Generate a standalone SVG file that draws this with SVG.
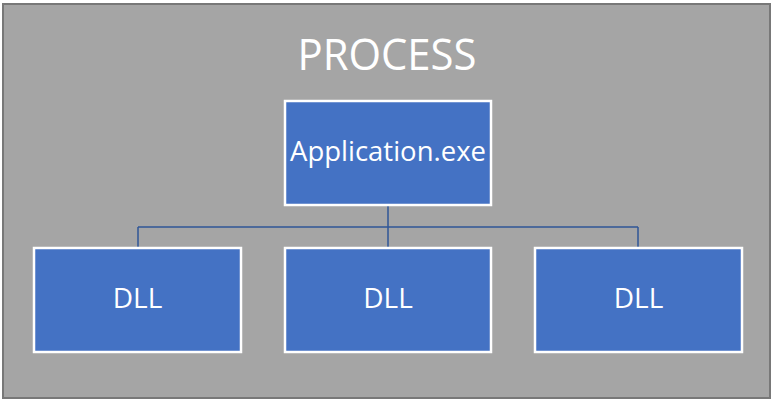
<svg xmlns="http://www.w3.org/2000/svg" width="777" height="402" viewBox="0 0 777 402">
  <style>
    .box { fill: #4472C4; stroke: #FFFFFF; stroke-width: 2.5; }
    .lbl { font-family: "Open Sans", "Noto Sans", sans-serif; fill: #FFFFFF; text-anchor: middle; }
    .conn { fill: none; stroke: #2F5597; stroke-width: 1.5; }
  </style>
  <rect id="process" x="3" y="4" width="767" height="394" fill="#A5A5A5" stroke="#787878" stroke-width="2"/>
  <text class="lbl" x="387" y="70" font-size="44" textLength="179" lengthAdjust="spacingAndGlyphs">PROCESS</text>
  <g id="connectors">
    <path class="conn" d="M388 206 V248 M138 227 H638 M138 227 V248 M638 227 V248"/>
  </g>
  <g id="app">
    <rect class="box" x="285" y="101" width="206" height="104"/>
    <text class="lbl" x="388" y="161" font-size="28" textLength="196" lengthAdjust="spacingAndGlyphs">Application.exe</text>
  </g>
  <g id="dll1">
    <rect class="box" x="34" y="248" width="207" height="104"/>
    <text class="lbl" x="137.5" y="308" font-size="28">DLL</text>
  </g>
  <g id="dll2">
    <rect class="box" x="285" y="248" width="206" height="104"/>
    <text class="lbl" x="388" y="308" font-size="28">DLL</text>
  </g>
  <g id="dll3">
    <rect class="box" x="535" y="248" width="207" height="104"/>
    <text class="lbl" x="638.5" y="308" font-size="28">DLL</text>
  </g>
</svg>
